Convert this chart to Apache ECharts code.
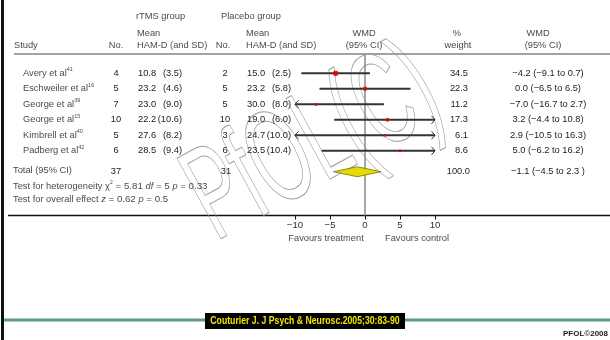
<!DOCTYPE html>
<html><head><meta charset="utf-8">
<script src="https://cdn.jsdelivr.net/npm/echarts@6/dist/echarts.min.js"></script>
<style>html,body{margin:0;padding:0;background:#fff}#c{width:610px;height:340px}</style>
</head><body><div id="c"></div>
<script>
// ---- data ----
const studies = ['Avery et al','Eschweiler et al','George et al','George et al','Kimbrell et al','Padberg et al'];
const refs = ['41','16','39','15','40','42'];
const rtmsN = [4,5,7,10,5,6];
const rtmsMean = [10.8,23.2,23.0,22.2,27.6,28.5];
const rtmsSD = [3.5,4.6,9.0,10.6,8.2,9.4];
const placN = [2,5,5,10,3,6];
const placMean = [15.0,23.2,30.0,19.0,24.7,23.5];
const placSD = [2.5,5.8,8.0,6.0,10.0,10.4];
const wmd = [-4.2,0.0,-7.0,3.2,2.9,5.0];
const ciLow = [-9.1,-6.5,-16.7,-4.4,-10.5,-6.2];
const ciHigh = [0.7,6.5,2.7,10.8,16.3,16.2];
const weights = [34.5,22.3,11.2,17.3,6.1,8.6];
const totalN = [37,31];
const totalWMD = [-1.1];
const totalCI = [-4.5,2.3];
const totalWeight = [100.0];
const hetStats = [5.81,5,0.33];   // chi2, df, p
const overallStats = [0.62,0.5];  // z, p
const xTicks = [-10,-5,0,5,10];
const favours = ['Favours treatment','Favours control'];

// ---- layout ----
const FONT = '"Liberation Sans", Arial, Helvetica, sans-serif';
const FS = 9.3;
const ROW0 = 73.3, ROWH = 15.5, GRID_TOP = 54, GRID_BOTTOM = 215.5;
const TOTAL_ROW = 6.35;
const yMin = -(ROW0 - GRID_TOP) / ROWH;
const yMax = yMin + (GRID_BOTTOM - GRID_TOP) / ROWH;
const rowY = r => ROW0 + r * ROWH;
const fmt = v => (v < 0 ? '\u2212' : '') + Math.abs(v).toFixed(1);

const chart = echarts.init(document.getElementById('c'), null, {renderer:'canvas'});

const graphics = [];
function txt(x, y, text, opt) {
  opt = opt || {};
  graphics.push({type:'text', x:x, y:y, silent:true, z: 10,
    style: Object.assign({text:text, font: (opt.size||FS) + 'px ' + FONT, fill: opt.color||'#4a4a4a',
      textAlign: opt.align||'left', textVerticalAlign:'middle', rich: opt.rich}, opt.style||{})});
}
const supRich = {
  n:{fontSize:FS, lineHeight:13, fontFamily:FONT, color:'#4a4a4a'},
  s:{fontSize:5.5, lineHeight:7, verticalAlign:'top', fontFamily:FONT, color:'#4a4a4a'},
  i:{fontSize:FS, lineHeight:13, fontStyle:'italic', fontFamily:FONT, color:'#4a4a4a'},
  b:{fontSize:FS+0.4, lineHeight:13, fontFamily:FONT, color:'#111'}
};

// left border & rules
graphics.push({type:'rect', shape:{x:1,y:0,width:3,height:340}, style:{fill:'#111'}, silent:true});
graphics.push({type:'line', shape:{x1:14,y1:GRID_TOP,x2:610,y2:GRID_TOP}, style:{stroke:'#444',lineWidth:1}, silent:true});
graphics.push({type:'line', shape:{x1:8,y1:GRID_BOTTOM,x2:610,y2:GRID_BOTTOM}, style:{stroke:'#111',lineWidth:1.5}, silent:true});
graphics.push({type:'line', shape:{x1:4,y1:320,x2:610,y2:320}, style:{stroke:'#5b9f82',lineWidth:3}, silent:true});
graphics.push({type:'rect', shape:{x:205,y:313,width:200,height:16}, style:{fill:'#000'}, silent:true, z:11});
graphics.push({type:'text', x:305, y:321, z:12, scaleX:0.79, silent:true, style:{text:'Couturier J. J Psych & Neurosc.2005;30:83-90', font:'bold 11px '+FONT, fill:'#f2e600', textAlign:'center', textVerticalAlign:'middle'}});
graphics.push({type:'text', x:608, y:334, silent:true, style:{text:'PFOL\u00a92008', font:'bold 8px '+FONT, fill:'#222', textAlign:'right', textVerticalAlign:'middle'}});

// watermark
graphics.push({type:'text', x:314, y:146, rotation:0.5, scaleY:1.85, silent:true, z:1,
  style:{text:'PfOL(C)', font:'72px '+FONT, fill:'rgba(0,0,0,0)', stroke:'#a0a0a0', lineWidth:0.55, textAlign:'center', textVerticalAlign:'middle'}});

// headers
const hc = '#4a4a4a';
txt(136,16,'rTMS group',{color:hc});
txt(221,16,'Placebo group',{color:hc});
txt(137,33,'Mean',{color:hc});
txt(137,45,'HAM-D (and SD)',{color:hc});
txt(246,33,'Mean',{color:hc});
txt(246,45,'HAM-D (and SD)',{color:hc});
txt(14,45,'Study',{color:hc});
txt(116,45,'No.',{color:hc,align:'center'});
txt(223,45,'No.',{color:hc,align:'center'});
txt(364,33,'WMD',{color:hc,align:'center'});
txt(364,45,'(95% CI)',{color:hc,align:'center'});
txt(457,33,'%',{color:hc,align:'center'});
txt(458,45,'weight',{color:hc,align:'center'});
txt(538,33,'WMD',{color:hc,align:'center'});
txt(543,45,'(95% CI)',{color:hc,align:'center'});

// rows
const nc = '#222';
studies.forEach((s,i) => {
  const y = rowY(i);
  txt(23, y, '{n|' + s + '}{s|' + refs[i] + '}', {rich:supRich});
  txt(116, y, String(rtmsN[i]), {align:'center', color:nc});
  txt(138, y, rtmsMean[i].toFixed(1), {color:nc});
  txt(182, y, '(' + rtmsSD[i].toFixed(1) + ')', {align:'right', color:nc});
  txt(225, y, String(placN[i]), {align:'center', color:nc});
  txt(247, y, placMean[i].toFixed(1), {color:nc});
  txt(291, y, '(' + placSD[i].toFixed(1) + ')', {align:'right', color:nc});
  txt(468, y, weights[i].toFixed(1), {align:'right', color:nc});
  txt(548, y, fmt(wmd[i]) + ' (' + fmt(ciLow[i]) + ' to ' + fmt(ciHigh[i]) + ')', {align:'center', color:nc});
});
const ty = rowY(TOTAL_ROW);
txt(13, ty - 1, 'Total (95% CI)');
txt(116, ty, String(totalN[0]), {align:'center', color:nc});
txt(226, ty, String(totalN[1]), {align:'center', color:nc});
txt(470, ty, totalWeight[0].toFixed(1), {align:'right', color:nc});
txt(548, ty, fmt(totalWMD[0]) + ' (' + fmt(totalCI[0]) + ' to ' + fmt(totalCI[1]) + ' )', {align:'center', color:nc});
txt(13, 186, '{n|Test for heterogeneity }{n|\u03c7}{s|2}{b| = ' + hetStats[0].toFixed(2) + ' }{i|df}{b| = ' + hetStats[1] + ' }{i|p}{b| = ' + hetStats[2] + '}', {rich:supRich});
txt(13, 199.5, '{n|Test for overall effect }{i|z}{b| = ' + overallStats[0] + ' }{i|p}{b| = ' + overallStats[1] + '}', {rich:supRich});
txt(326, 238.5, favours[0], {align:'center', color:'#4a4a4a'});
txt(417, 238.5, favours[1], {align:'center', color:'#4a4a4a'});

const XMIN = xTicks[0], XMAX = xTicks[xTicks.length-1];
const lineColor = '#333';

function renderCI(params, api) {
  const lo = api.value(0), hi = api.value(1), r = api.value(2);
  const loC = Math.max(lo, XMIN), hiC = Math.min(hi, XMAX);
  const p1 = api.coord([loC, r]), p2 = api.coord([hiC, r]);
  const ch = [{type:'line', shape:{x1:p1[0], y1:p1[1], x2:p2[0], y2:p2[1]}, style:{stroke:lineColor, lineWidth:2}}];
  if (lo < XMIN) ch.push({type:'polyline', shape:{points:[[p1[0]+3.5,p1[1]-4],[p1[0],p1[1]],[p1[0]+3.5,p1[1]+4]]}, style:{stroke:lineColor, fill:null, lineWidth:1}});
  if (hi > XMAX) ch.push({type:'polyline', shape:{points:[[p2[0]-3.5,p2[1]-4],[p2[0],p2[1]],[p2[0]-3.5,p2[1]+4]]}, style:{stroke:lineColor, fill:null, lineWidth:1}});
  return {type:'group', children:ch};
}
function renderDiamond(params, api) {
  const lo = api.value(0), hi = api.value(1), r = api.value(2), m = api.value(3);
  const a = api.coord([lo, r]), b = api.coord([hi, r]), c = api.coord([m, r]);
  return {type:'polygon', shape:{points:[[a[0],a[1]],[c[0],c[1]-5],[b[0],b[1]],[c[0],c[1]+5]]},
    style:{fill:'#e6da00', stroke:'#77700a', lineWidth:0.8}};
}

chart.setOption({
  animation:false,
  backgroundColor:'#fff',
  grid:{left:295, top:GRID_TOP, width:140, height:GRID_BOTTOM-GRID_TOP},
  xAxis:{type:'value', min:XMIN, max:XMAX, interval:5, position:'bottom',
    axisLine:{show:false, onZero:false}, splitLine:{show:false},
    axisTick:{show:true, length:4, lineStyle:{color:'#111', width:1}},
    axisLabel:{fontSize:FS+0.3, fontFamily:FONT, color:'#333', margin:5, formatter: v => (v<0?'\u2212':'') + Math.abs(v)}},
  yAxis:{type:'value', inverse:true, min:yMin, max:yMax, show:false},
  graphic: graphics,
  series:[
    {type:'custom', renderItem:renderCI, clip:false, encode:{x:[0,1], y:2}, z:3,
      data: ciLow.map((l,i) => [l, ciHigh[i], i]),
      markLine:{z:2, silent:true, symbol:'none', label:{show:false}, lineStyle:{color:'#8a8a8a', width:1.5, type:'solid'}, data:[{xAxis:0}]}},
    {type:'scatter', z:6, data: wmd.map((w,i) => [w, i]), symbol:'circle',
      symbolSize: (v, p) => 2.2 + weights[p.dataIndex] * 0.1, itemStyle:{color:'#e00000'}},
    {type:'custom', renderItem:renderDiamond, clip:false, encode:{x:[0,1,3], y:2}, z:4,
      data:[[totalCI[0], totalCI[1], TOTAL_ROW, totalWMD[0]]]}
  ]
});
</script></body></html>
